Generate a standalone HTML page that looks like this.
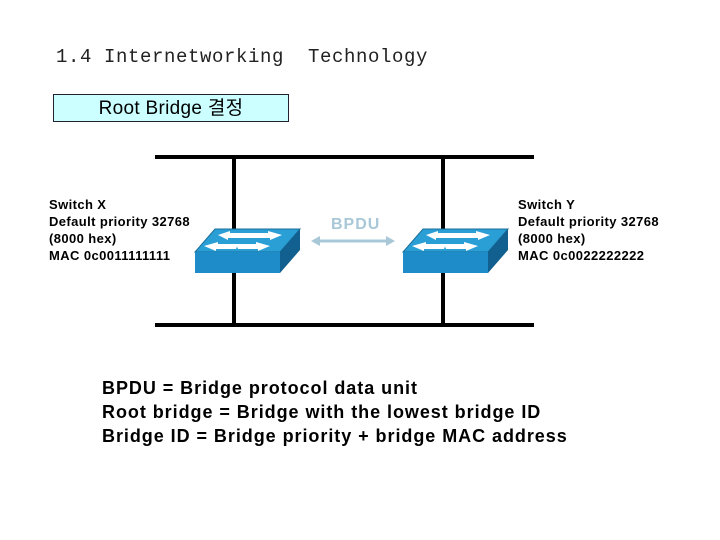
<!DOCTYPE html>
<html><head><meta charset="utf-8"><style>
body{margin:0;width:720px;height:540px;background:#fff;position:relative;overflow:hidden;font-family:"Liberation Sans","Noto Sans CJK KR",sans-serif}
.t{position:absolute;white-space:pre}
</style></head><body>
<div class="t" style="left:56px;top:46px;font-family:'Liberation Mono','Noto Sans CJK KR',monospace;font-size:19px;letter-spacing:0.6px;color:#222;">1.4 Internetworking  Technology</div>
<div class="t" style="left:53px;top:94px;width:234px;height:26px;background:#ccffff;border:1px solid #223;text-align:center;font-size:19px;letter-spacing:0.3px;line-height:27px;">Root Bridge 결정</div>
<svg width="720" height="540" style="position:absolute;left:0;top:0">
<rect x="155" y="155" width="379" height="4" fill="#000"/>
<rect x="155" y="323" width="379" height="4" fill="#000"/>
<rect x="232" y="157" width="4" height="168" fill="#000"/>
<rect x="441" y="157" width="4" height="168" fill="#000"/>
<line x1="316" y1="241" x2="390" y2="241" stroke="#a8c8d8" stroke-width="3"/>
<polygon points="311,241 320,236 320,246" fill="#a8c8d8"/>
<polygon points="395,241 386,236 386,246" fill="#a8c8d8"/>
<g id="sw">
<polygon points="215,229 300,229 280,252 195,252" fill="#2a9fd6" stroke="#1a6f9a"/>
<polygon points="195,252 280,252 280,273 195,273" fill="#1d8cc8"/>
<polygon points="280,252 300,229 300,250 280,273" fill="#11608f"/>
<polygon points="218,235 230,231 230,233 250,233 248,238 228,238 228,240" fill="#fff"/>
<polygon points="282,235 268,231 268,233 246,233 248,238 270,238 270,240" fill="#fff"/>
<polygon points="204,246 218,242 218,244 238,244 236,249 216,249 216,251" fill="#fff"/>
<polygon points="270,246 256,242 256,244 236,244 238,249 258,249 258,251" fill="#fff"/>
</g>
<use href="#sw" x="208" y="0"/>
</svg>
<div class="t" style="left:331px;top:216px;font-size:16px;letter-spacing:1px;font-weight:bold;color:#a8c8d8;">BPDU</div>
<div class="t" style="left:49px;top:196px;font-size:13px;font-weight:bold;letter-spacing:0.4px;line-height:17px;color:#000;">Switch X
Default priority 32768
(8000 hex)
MAC 0c0011111111</div>
<div class="t" style="left:518px;top:196px;font-size:13px;font-weight:bold;letter-spacing:0.4px;line-height:17px;color:#000;">Switch Y
Default priority 32768
(8000 hex)
MAC 0c0022222222</div>
<div class="t" style="left:102px;top:376px;font-size:18px;letter-spacing:0.95px;line-height:24px;font-weight:bold;color:#000;">BPDU = Bridge protocol data unit
Root bridge = Bridge with the lowest bridge ID
Bridge ID = Bridge priority + bridge MAC address</div>
</body></html>
